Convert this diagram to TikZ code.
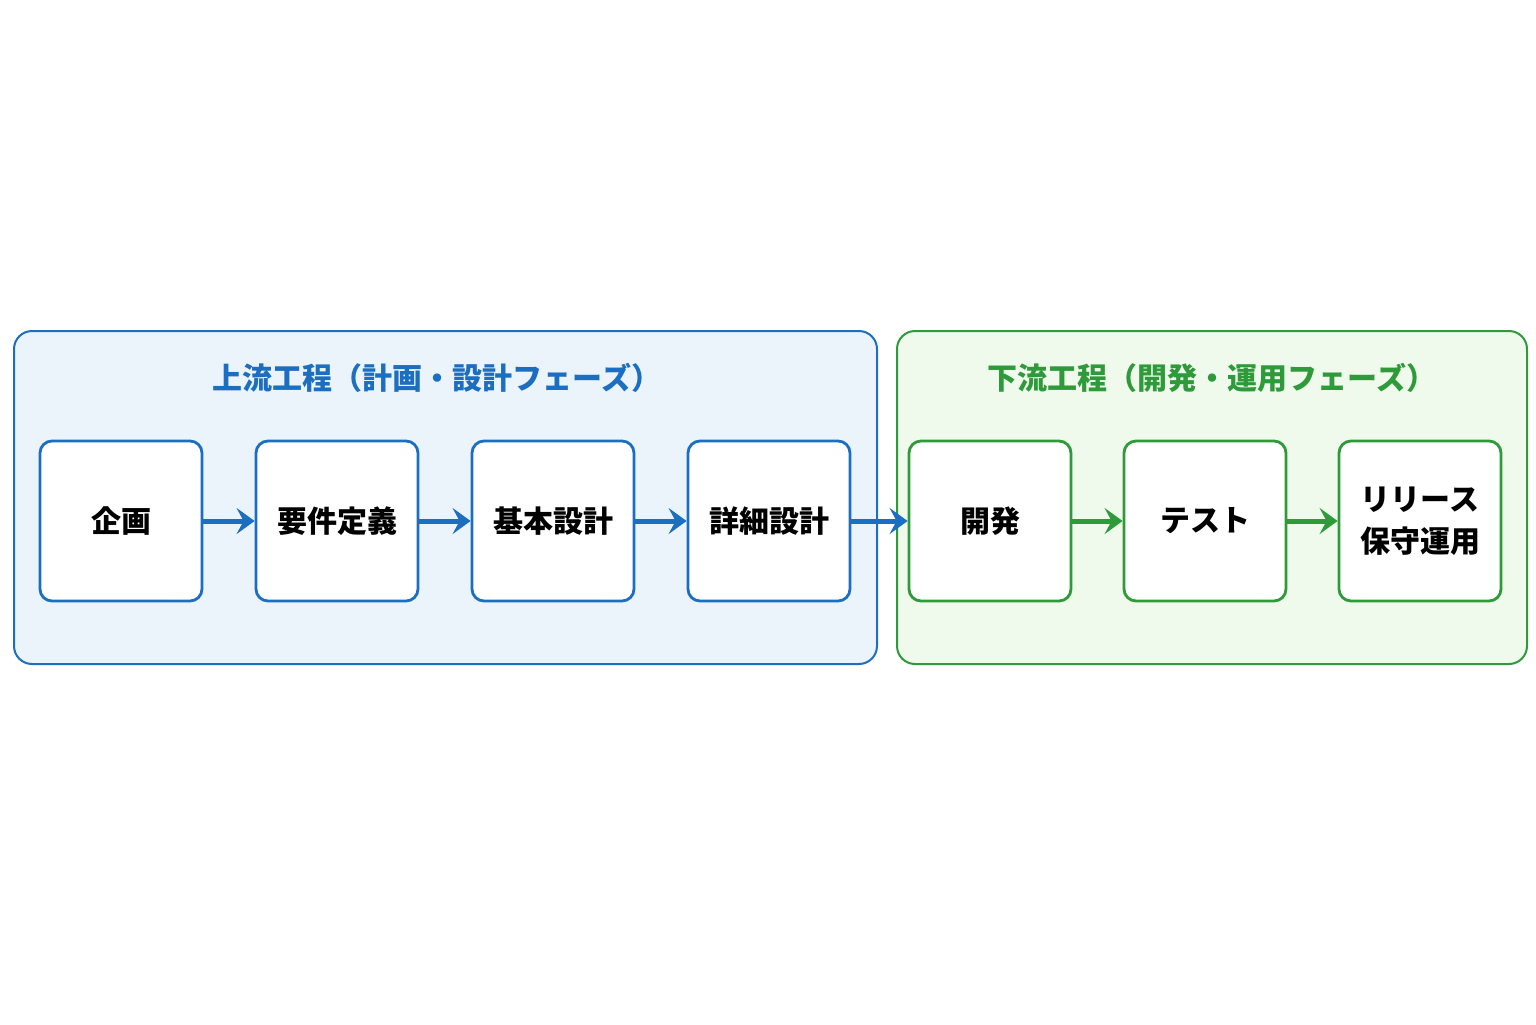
\documentclass[tikz,border=0pt]{standalone}
\usepackage{fontspec}
\setmainfont{Noto Sans CJK JP}
\usetikzlibrary{arrows.meta}
\definecolor{upblue}{HTML}{1C6FC0}
\definecolor{upfill}{HTML}{EBF3FB}
\definecolor{downgreen}{HTML}{2E9A3A}
\definecolor{downfill}{HTML}{EFF9EC}

\begin{document}
\begin{tikzpicture}[x=0.5pt,y=-0.5pt,
    phase/.style={draw,rounded corners=9pt,line width=1pt,anchor=north west},
    stage/.style={draw,fill=white,rounded corners=6pt,line width=1.4pt,minimum width=81pt,minimum height=80pt,font=\bfseries\fontsize{15}{21}\selectfont,align=center},
    flow/.style={line width=2.5pt,-{Stealth[length=9pt,width=13pt,inset=3.5pt]}}]

        \useasboundingbox (0,0) rectangle (1536,1024);

        \node[phase,color=upblue,fill=upfill,minimum width=431.5pt,minimum height=166.5pt]      (up) at (13, 330)    {};
        \node[phase,color=downgreen,fill=downfill,minimum width=315pt,minimum height=166.5pt]   (down) at (896, 330) {};

        \node[text=upblue,font=\bfseries\fontsize{15}{18}\selectfont]      (uptitle) at (437, 378)     {上流工程（計画・設計フェーズ）};
        \node[text=downgreen,font=\bfseries\fontsize{15}{18}\selectfont]   (downtitle) at (1212, 378)  {下流工程（開発・運用フェーズ）};

        \node[stage,draw=upblue]      (plan) at (121, 521)     {企画};
        \node[stage,draw=upblue]      (req) at (337, 521)      {要件定義};
        \node[stage,draw=upblue]      (basic) at (553, 521)    {基本設計};
        \node[stage,draw=upblue]      (detail) at (769, 521)   {詳細設計};
        \node[stage,draw=downgreen]   (dev) at (990, 521)      {開発};
        \node[stage,draw=downgreen]   (test) at (1205, 521)    {テスト};
        \node[stage,draw=downgreen]   (release) at (1420, 521) {リリース\\保守運用};

        \draw (plan) edge[flow,upblue]        (req);
        \draw (req) edge[flow,upblue]         (basic);
        \draw (basic) edge[flow,upblue]       (detail);
        \draw (detail) edge[flow,upblue]      (dev);
        \draw (dev) edge[flow,downgreen]      (test);
        \draw (test) edge[flow,downgreen]     (release);
      \end{tikzpicture}
\end{document}
